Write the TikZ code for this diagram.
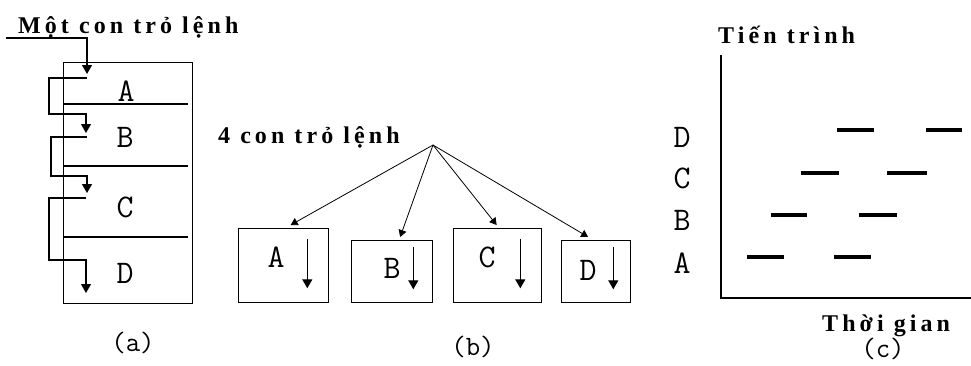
\documentclass[tikz,border=0pt]{standalone}
\usepackage{fontspec}
\setmainfont{Liberation Serif}
\newfontfamily\spbold[LetterSpace=17]{Liberation Serif Bold}
\usetikzlibrary{arrows.meta}
\tikzset{
  ttl/.style={font=\spbold\fontsize{24}{24}\selectfont, inner sep=0pt, anchor=base west},
  lbl/.style={font=\ttfamily\fontsize{33}{33}\selectfont, inner sep=0pt},
  captxt/.style={font=\ttfamily\fontsize{28}{28}\selectfont, inner sep=0pt},
  frame/.style={draw, line width=1.3pt, inner sep=0pt, anchor=north west},
  flow/.style={line width=1.3pt, -{Triangle[width=10pt,length=9pt]}},
  fan/.style={line width=0.8pt, -{Triangle[width=8pt,length=7pt]}},
  seg/.style={line width=3.8pt}
}
\begin{document}
\begin{tikzpicture}[x=1pt,y=-1pt]
\useasboundingbox (0,0) rectangle (971,365);
% ---------- (a)
\node[ttl] (ta) at (18,33) {Một con trỏ lệnh};
\node[frame, minimum width=129pt, minimum height=241pt] (boxa) at (63,62) {};
\draw[line width=1.3pt] (boxa.west |- 0,104) -- (188,104);
\draw[line width=1.3pt] (boxa.west |- 0,166) -- (188,166);
\draw[line width=1.3pt] (boxa.west |- 0,237) -- (188,237);
\node[lbl] (aA) at (126,91) {A};
\node[lbl] (aB) at (125,137) {B};
\node[lbl] (aC) at (125,207) {C};
\node[lbl] (aD) at (125,273) {D};
\coordinate (s0) at (6,38);
\coordinate (t1) at (87,74);
\coordinate (s1) at (87,78);
\coordinate (t2) at (86,133);
\coordinate (s2) at (87,137);
\coordinate (t3) at (87,193);
\coordinate (s3) at (86,198);
\coordinate (t4) at (86,293);
\draw[flow] (s0) -| (t1);
\draw[flow] (s1) -- (49,78) -- (49,114) -- (86,114) -- (t2);
\draw[flow] (s2) -- (51,137) -- (51,176) -- (87,176) -- (t3);
\draw[flow] (s3) -- (49,198) -- (49,260) -- (86,260) -- (t4);
\node[captxt] (capa) at (133,343) {(a)};
% ---------- (b)
\node[ttl] (tb) at (218,143) {4 con trỏ lệnh};
\coordinate (fp) at (433,145);
\node[frame, minimum width=90pt, minimum height=74pt] (bA) at (238,228) {};
\node[frame, minimum width=81pt, minimum height=62pt] (bB) at (351,240) {};
\node[frame, minimum width=88pt, minimum height=74pt] (bC) at (453,228) {};
\node[frame, minimum width=69pt, minimum height=62pt] (bD) at (561,240) {};
\draw[fan] (fp) -- ([xshift=7pt,yshift=3pt]bA.north);
\draw[fan] (fp) -- ([xshift=8pt,yshift=3pt]bB.north);
\draw[fan] (fp) -- ([xshift=-1pt,yshift=3pt]bC.north);
\draw[fan] (fp) -- ([xshift=-8pt,yshift=3pt]bD.north);
\draw[flow] ([xshift=-22pt,yshift=-11pt]bA.north east) -- ([xshift=-22pt,yshift=15pt]bA.south east);
\draw[flow] ([xshift=-20pt,yshift=-7pt]bB.north east) -- ([xshift=-20pt,yshift=14pt]bB.south east);
\draw[flow] ([xshift=-22pt,yshift=-11pt]bC.north east) -- ([xshift=-22pt,yshift=15pt]bC.south east);
\draw[flow] ([xshift=-18pt,yshift=-7pt]bD.north east) -- ([xshift=-18pt,yshift=14pt]bD.south east);
\node[lbl] (lA) at (276,257) {A};
\node[lbl] (lB) at (392,268) {B};
\node[lbl] (lC) at (487,257) {C};
\node[lbl] (lD) at (588,270) {D};
\node[captxt] (capb) at (473,347) {(b)};
% ---------- (c)
\node[ttl] (tc) at (718,43) {Tiến trình};
\coordinate (ytop) at (721,55);
\coordinate (orig) at (721,298);
\coordinate (xend) at (971,298);
\draw[line width=1.3pt] (ytop) -- (orig) -- (xend);
\node[lbl] (cD) at (682,137) {D};
\node[lbl] (cC) at (682,178) {C};
\node[lbl] (cB) at (682,220) {B};
\node[lbl] (cA) at (682,263) {A};
\draw[seg] (837,130) -- (874,130);
\draw[seg] (926,130) -- (962,130);
\draw[seg] (801,173) -- (839,173);
\draw[seg] (887,173) -- (927,173);
\draw[seg] (771,215) -- (807,215);
\draw[seg] (859,215) -- (897,215);
\draw[seg] (747,257) -- (784,257);
\draw[seg] (834,257) -- (871,257);
\node[ttl] (tx) at (822,331) {Thời gian};
\node[captxt] (capc) at (883,349) {(c)};
\end{tikzpicture}
\end{document}
